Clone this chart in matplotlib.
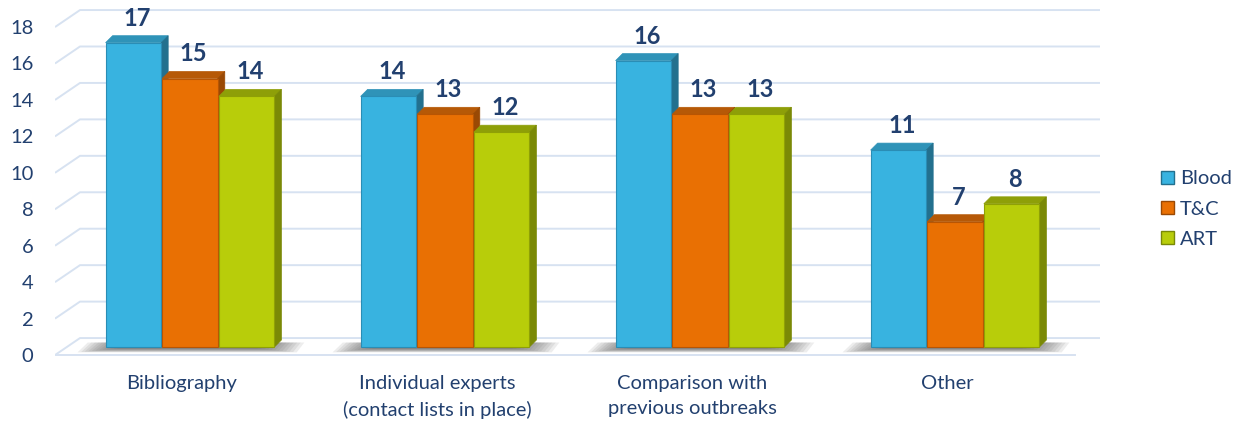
import matplotlib
matplotlib.use("Agg")
import matplotlib.pyplot as plt
import matplotlib.transforms as mtransforms
from matplotlib.patches import Polygon, Patch
import numpy as np

# ---- data ----
categories = ["Bibliography", "Individual experts\n(contact lists in place)",
              "Comparison with\nprevious outbreaks", "Other"]
series_names = ["Blood", "T&C", "ART"]
blood = [17, 14, 16, 11]
tc = [15, 13, 13, 7]
art = [14, 12, 13, 8]
yticks = [0, 2, 4, 6, 8, 10, 12, 14, 16, 18]

# ---- style ----
front_cols = ["#38B3E0", "#E97003", "#B8CD0A"]
edge_cols = ["#2A8DB5", "#B85503", "#8FA006"]
top_cols = ["#2F93B8", "#B65907", "#8E9F08"]
side_cols = ["#23708E", "#9A4904", "#7A8906"]
grid_col = "#D7E2F1"
text_col = "#22406F"

plt.rcParams['font.family'] = ['Lato', 'DejaVu Sans']

W, H = 1248, 423
fig = plt.figure(figsize=(W / 100, H / 100), dpi=100)
# axes from px x 55..1248, y 0..362
ax = fig.add_axes([55 / W, (H - 362) / H, (W - 55) / W, 362 / H])
px_per_x = 255.0
px_per_y = 17.9
x0_px = 190.0   # pixel x of group 0 center
base_px = 347.0  # pixel y of bar base
ax.set_xlim((55 - x0_px) / px_per_x, (W - x0_px) / px_per_x)
ax.set_ylim(-(362 - base_px) / px_per_y, base_px / px_per_y)
for s in ax.spines.values():
    s.set_visible(False)

# perspective parameters (data units)
dx = 7 / px_per_x
dy = 7 / px_per_y
x_fl, x_bl = (55 - x0_px) / px_per_x, (80 - x0_px) / px_per_x
x_fr, x_br = (1075 - x0_px) / px_per_x, (1100 - x0_px) / px_per_x


def front_y(v):
    return 1.018 * v - 0.45


def back_y(v):
    return 1.018 * v + 0.5


# gridlines (back wall + left diagonal)
for v in yticks:
    ax.plot([x_fl, x_bl, x_br], [front_y(v), back_y(v), back_y(v)],
            color=grid_col, lw=1.4, zorder=1, solid_capstyle='butt')
ax.plot([x_fl, x_fr], [front_y(0), front_y(0)], color=grid_col, lw=1.4, zorder=1)

x = np.arange(len(categories))
width = 0.218
offsets = [-0.222, 0.0, 0.222]
all_series = [blood, tc, art]

# floor shadows
for xi in x:
    L = xi + offsets[0] - width / 2 - 0.11
    R = xi + offsets[-1] + width / 2 + 0.09 + dx
    n = 12
    for k in range(n):
        shrink = k * 0.014
        ax.add_patch(Polygon([[L + shrink + 0.04, 0.25], [R - shrink, 0.25],
                              [R - shrink - 0.03, -0.30 + k * 0.02],
                              [L + shrink, -0.30 + k * 0.02]],
                             closed=True, facecolor="#5E5E5E", edgecolor='none',
                             alpha=0.11, zorder=2))

# bars with 3D faces
for si, (vals, name) in enumerate(zip(all_series, series_names)):
    bars = ax.bar(x + offsets[si], vals, width, color=front_cols[si],
                  edgecolor=edge_cols[si], linewidth=0.8, zorder=3 + si * 2 + 1, label=name)
    for b in bars:
        bx0 = b.get_x()
        bx1 = bx0 + b.get_width()
        h = b.get_height()
        ax.add_patch(Polygon([[bx0, h], [bx0 + dx, h + dy], [bx1 + dx, h + dy], [bx1, h]],
                             closed=True, facecolor=top_cols[si], edgecolor=top_cols[si],
                             lw=0.5, zorder=3 + si * 2))
        ax.add_patch(Polygon([[bx1, h], [bx1 + dx, h + dy], [bx1 + dx, dy], [bx1, 0]],
                             closed=True, facecolor=side_cols[si], edgecolor=side_cols[si],
                             lw=0.5, zorder=3 + si * 2))
        ax.text(bx0 + b.get_width() / 2 + dx / 2, h + 0.95, f"{int(h)}",
                ha='center', va='baseline', fontsize=17, fontweight='bold',
                color=text_col, zorder=10)

# y tick labels on the front plane
ax.set_yticks([front_y(v) for v in yticks], labels=[str(v) for v in yticks])
ax.tick_params(axis='y', length=0, pad=15.5, labelsize=14.5, labelcolor=text_col)

# category labels
ax.set_xticks(x, labels=categories)
ax.tick_params(axis='x', length=0, pad=9.5, labelsize=14.5, labelcolor=text_col)
shift = mtransforms.ScaledTranslation(-8 / 100, 0, fig.dpi_scale_trans)
for lbl in ax.get_xticklabels():
    lbl.set_transform(lbl.get_transform() + shift)
    lbl.set_linespacing(1.55)

# legend
handles = [Patch(facecolor=front_cols[i], edgecolor=side_cols[i], linewidth=1.0,
                 label=series_names[i]) for i in range(3)]
fig.legend(handles=handles, loc='center left', bbox_to_anchor=(1161 / W, (H - 209) / H),
           frameon=False, fontsize=14.5, labelcolor=text_col, handlelength=0.65,
           handleheight=0.65, handletextpad=0.3, labelspacing=0.65,
           borderpad=0, borderaxespad=0)

fig.savefig("out.png", dpi=100)
